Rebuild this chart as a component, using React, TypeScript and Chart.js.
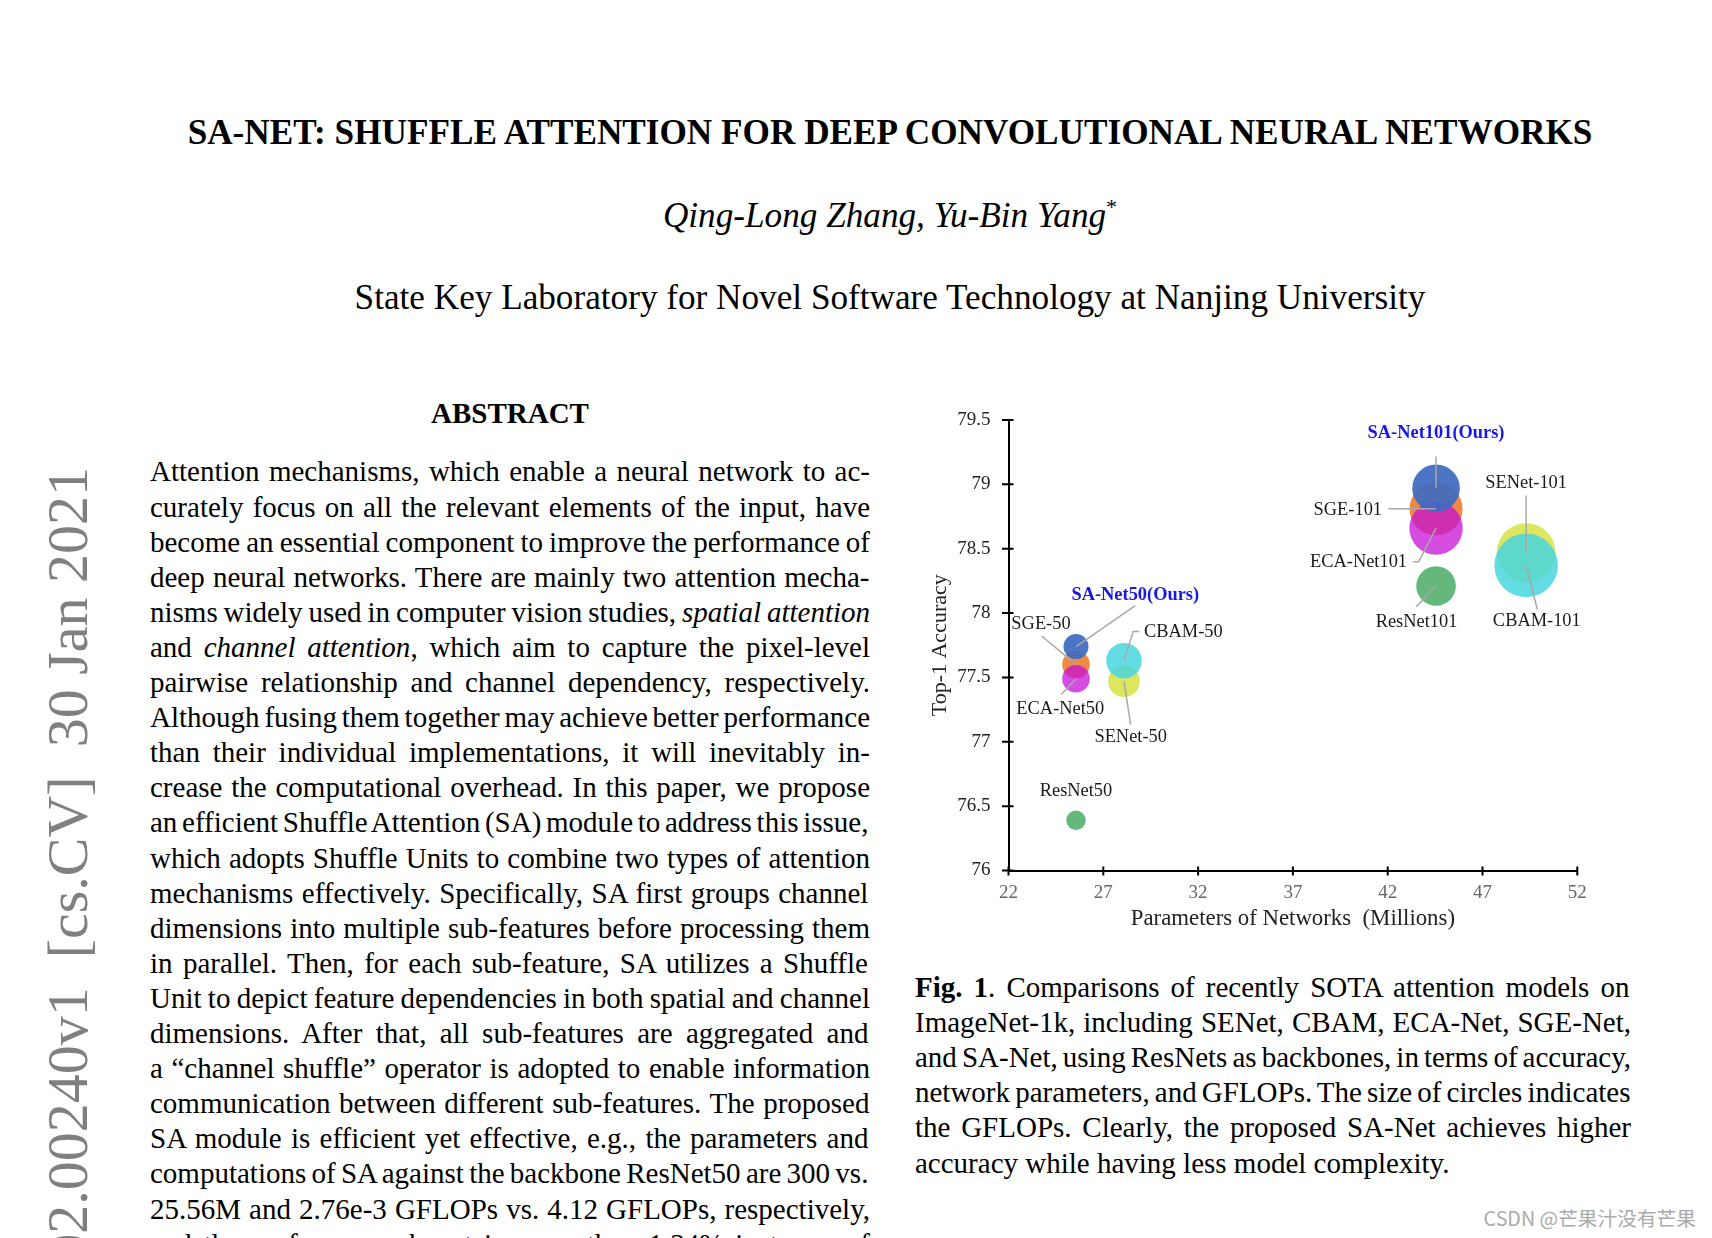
import React, { useEffect, useRef } from "react";
import { Chart, registerables } from "chart.js";

Chart.register(...registerables);

// ---------------- chart data ----------------
const models = [
  "ResNet50", "SENet-50", "CBAM-50", "SGE-50", "ECA-Net50", "SA-Net50(Ours)",
  "ResNet101", "SENet-101", "CBAM-101", "SGE-101", "ECA-Net101", "SA-Net101(Ours)",
];
const paramsM = [25.56, 28.09, 28.09, 25.56, 25.56, 25.56, 44.55, 49.3, 49.3, 44.55, 44.55, 44.55];
const top1Acc = [76.39, 77.47, 77.63, 77.6, 77.49, 77.74, 78.21, 78.47, 78.37, 78.81, 78.66, 78.97];
const bubbleSize = [9.7, 15.8, 17.8, 13.8, 13.8, 12.5, 19.8, 29.3, 31.8, 26.5, 26.7, 23.8];
const xTickValues = [22, 27, 32, 37, 42, 47, 52];
const yTickValues = [76, 76.5, 77, 77.5, 78, 78.5, 79, 79.5];
const xAxisTitle = "Parameters of Networks  (Millions)";
const yAxisTitle = "Top-1 Accuracy";

// styles
const BLUE = "rgba(63,106,193,0.93)";
const ORANGE = "rgba(237,125,49,0.9)";
const MAGENTA = "rgba(198,16,214,0.75)";
const GREEN = "rgba(84,176,110,0.9)";
const CYAN = "rgba(72,214,222,0.85)";
const YELLOW = "rgba(214,226,66,0.85)";
const bubbleColors = [GREEN, YELLOW, CYAN, ORANGE, MAGENTA, BLUE, GREEN, YELLOW, CYAN, ORANGE, MAGENTA, BLUE];

type LabelSpec = { dx: number; dy: number; align: CanvasTextAlign; ours?: boolean; line: number[][] };
// label placement (pixel offsets from bubble centre) and leader lines
const labelLayout: LabelSpec[] = [
  { dx: 0, dy: -29.3, align: "center", line: [] },
  { dx: 6.7, dy: 56, align: "center", line: [[0, 0], [6.7, 43.3]] },
  { dx: 20, dy: -29, align: "left", line: [[0, 0], [9.3, -29.3], [15.3, -29.3]] },
  { dx: -35, dy: -40, align: "center", line: [[0, 0], [-34, -28.3]] },
  { dx: -15.7, dy: 30.7, align: "center", line: [[0, 0], [-14.7, 15.7]] },
  { dx: 59.3, dy: -51, align: "center", ours: true, line: [[0, 0], [59.3, -41]] },
  { dx: -19.5, dy: 35.7, align: "center", line: [[0, 0], [-19.8, 20.7]] },
  { dx: 0, dy: -69.3, align: "center", line: [[0, 0], [0, -57]] },
  { dx: 10.7, dy: 55.7, align: "center", line: [[0, 0], [11.3, 44]] },
  { dx: -54, dy: 1.7, align: "right", line: [[0, 0], [-47.7, 0]] },
  { dx: -29, dy: 33.7, align: "right", line: [[0, 0], [-17.4, 33.7], [-23, 33.7]] },
  { dx: 0, dy: -55.3, align: "center", ours: true, line: [[0, 0], [0, -31.6]] },
];

// ---------------- page text ----------------
const titleText = "SA-NET: SHUFFLE ATTENTION FOR DEEP CONVOLUTIONAL NEURAL NETWORKS";
const authorsText = "Qing-Long Zhang, Yu-Bin Yang";
const affiliationText = "State Key Laboratory for Novel Software Technology at Nanjing University";
const stampText = "arXiv:2102.00240v1  [cs.CV]  30 Jan 2021";
const watermarkText = "CSDN @芒果汁没有芒果";

type Seg = { t: string; i?: boolean; b?: boolean };
const abstractLines: Seg[][] = [
  [{ t: "Attention mechanisms, which enable a neural network to ac-" }],
  [{ t: "curately focus on all the relevant elements of the input, have" }],
  [{ t: "become an essential component to improve the performance of" }],
  [{ t: "deep neural networks. There are mainly two attention mecha-" }],
  [{ t: "nisms widely used in computer vision studies, " }, { t: "spatial attention", i: true }],
  [{ t: "and " }, { t: "channel attention", i: true }, { t: ", which aim to capture the pixel-level" }],
  [{ t: "pairwise relationship and channel dependency, respectively." }],
  [{ t: "Although fusing them together may achieve better performance" }],
  [{ t: "than their individual implementations, it will inevitably in-" }],
  [{ t: "crease the computational overhead. In this paper, we propose" }],
  [{ t: "an efficient Shuffle Attention (SA) module to address this issue," }],
  [{ t: "which adopts Shuffle Units to combine two types of attention" }],
  [{ t: "mechanisms effectively. Specifically, SA first groups channel" }],
  [{ t: "dimensions into multiple sub-features before processing them" }],
  [{ t: "in parallel. Then, for each sub-feature, SA utilizes a Shuffle" }],
  [{ t: "Unit to depict feature dependencies in both spatial and channel" }],
  [{ t: "dimensions. After that, all sub-features are aggregated and" }],
  [{ t: "a \u201cchannel shuffle\u201d operator is adopted to enable information" }],
  [{ t: "communication between different sub-features. The proposed" }],
  [{ t: "SA module is efficient yet effective, e.g., the parameters and" }],
  [{ t: "computations of SA against the backbone ResNet50 are 300 vs." }],
  [{ t: "25.56M and 2.76e-3 GFLOPs vs. 4.12 GFLOPs, respectively," }],
  [{ t: "and the performance boost is more than 1.34% in terms of" }],
];

const captionLines: Seg[][] = [
  [{ t: "Fig. 1", b: true }, { t: ". Comparisons of recently SOTA attention models on" }],
  [{ t: "ImageNet-1k, including SENet, CBAM, ECA-Net, SGE-Net," }],
  [{ t: "and SA-Net, using ResNets as backbones, in terms of accuracy," }],
  [{ t: "network parameters, and GFLOPs. The size of circles indicates" }],
  [{ t: "the GFLOPs. Clearly, the proposed SA-Net achieves higher" }],
  [{ t: "accuracy while having less model complexity." }],
];

const SERIF = '"Liberation Serif", "Times New Roman", serif';
const HEAD = 35.2;

let measureCtx: CanvasRenderingContext2D | null = null;
function measure(font: string, text: string): number {
  if (!measureCtx) measureCtx = document.createElement("canvas").getContext("2d");
  measureCtx!.font = font;
  return measureCtx!.measureText(text).width;
}

function JLine(props: { segs: Seg[]; left: number; top: number; width: number; size: number; justify: boolean }) {
  const { segs, left, top, width, size, justify } = props;
  let w = 0;
  let spaces = 0;
  for (const s of segs) {
    w += measure(`${s.i ? "italic " : ""}${s.b ? "bold " : ""}${size}px "Liberation Serif"`, s.t);
    spaces += (s.t.match(/ /g) || []).length;
  }
  const ws = justify && spaces ? (width - w) / spaces : 0;
  return (
    <div
      style={{
        position: "absolute", left, top, width, whiteSpace: "pre",
        fontSize: size, lineHeight: `${size}px`, wordSpacing: `${ws}px`,
      }}
    >
      {segs.map((s, k) => (
        <span key={k} style={{ fontStyle: s.i ? "italic" : "normal", fontWeight: s.b ? "bold" : "normal" }}>
          {s.t}
        </span>
      ))}
    </div>
  );
}

function BubbleChart() {
  const ref = useRef<HTMLCanvasElement>(null);
  useEffect(() => {
    const canvas = ref.current!;
    const annotate = {
      id: "annotate",
      afterDraw(chart: any) {
        const ctx = chart.ctx as CanvasRenderingContext2D;
        const xs = chart.scales.x;
        const ys = chart.scales.y;
        const ca = chart.chartArea;
        ctx.save();
        // crossing tick marks
        ctx.strokeStyle = "#000";
        ctx.lineWidth = 2;
        ctx.beginPath();
        yTickValues.forEach((v) => {
          const p = ys.getPixelForValue(v);
          ctx.moveTo(ca.left - 6.5, p);
          ctx.lineTo(ca.left + 5, p);
        });
        xTickValues.forEach((v) => {
          const p = xs.getPixelForValue(v);
          ctx.moveTo(p, ca.bottom - 4);
          ctx.lineTo(p, ca.bottom + 5);
        });
        ctx.stroke();
        // leader lines
        ctx.strokeStyle = "#a8a8a8";
        ctx.lineWidth = 1.5;
        models.forEach((_, i) => {
          const L = labelLayout[i];
          if (!L.line.length) return;
          const cx = xs.getPixelForValue(paramsM[i]);
          const cy = ys.getPixelForValue(top1Acc[i]);
          ctx.beginPath();
          L.line.forEach((pt, k) => {
            if (k === 0) ctx.moveTo(cx + pt[0], cy + pt[1]);
            else ctx.lineTo(cx + pt[0], cy + pt[1]);
          });
          ctx.stroke();
        });
        // labels
        ctx.textBaseline = "middle";
        models.forEach((name, i) => {
          const L = labelLayout[i];
          const cx = xs.getPixelForValue(paramsM[i]);
          const cy = ys.getPixelForValue(top1Acc[i]);
          ctx.font = `${L.ours ? "bold " : ""}18.4px ${SERIF}`;
          ctx.fillStyle = L.ours ? "#1717e6" : "#1a1a1a";
          ctx.textAlign = L.align;
          ctx.fillText(name, cx + L.dx, cy + L.dy);
        });
        // axis titles
        ctx.fillStyle = "#222";
        ctx.textAlign = "center";
        ctx.font = `22.8px ${SERIF}`;
        ctx.fillText(xAxisTitle, (ca.left + ca.right) / 2, ca.bottom + 48.5);
        ctx.font = `22px ${SERIF}`;
        ctx.translate(ca.left - 68.5, (ca.top + ca.bottom) / 2);
        ctx.rotate(-Math.PI / 2);
        ctx.fillText(yAxisTitle, 0, 0);
        ctx.restore();
      },
    };
    const chart = new Chart(canvas, {
      type: "bubble",
      data: {
        datasets: [
          {
            data: models.map((_, i) => ({ x: paramsM[i], y: top1Acc[i], r: bubbleSize[i] })),
            backgroundColor: bubbleColors,
            borderWidth: 0,
            hoverBorderWidth: 0,
          },
        ],
      },
      options: {
        responsive: false,
        animation: false,
        devicePixelRatio: 1,
        events: [],
        clip: false,
        layout: { autoPadding: false, padding: { top: 30, right: 22.7, left: 0, bottom: 0 } },
        plugins: { legend: { display: false }, tooltip: { enabled: false } },
        scales: {
          x: {
            type: "linear",
            min: 22,
            max: 52,
            afterFit: (s: any) => {
              s.height = 79.5;
              s.paddingLeft = 0;
              s.paddingRight = 0;
              s.paddingTop = 0;
              s.paddingBottom = 0;
            },
            afterBuildTicks: (s: any) => { s.ticks = xTickValues.map((v) => ({ value: v })); },
            ticks: {
              font: { family: SERIF, size: 19 },
              color: "#666",
              padding: 11,
              maxRotation: 0,
              autoSkip: false,
              callback: (v: any) => String(v),
            },
            grid: { display: false, drawTicks: false },
            border: { display: true, color: "#000", width: 2 },
          },
          y: {
            type: "linear",
            min: 76,
            max: 79.5,
            afterFit: (s: any) => {
              s.width = 88.5;
              s.paddingLeft = 0;
              s.paddingRight = 0;
              s.paddingTop = 0;
              s.paddingBottom = 0;
            },
            afterBuildTicks: (s: any) => { s.ticks = yTickValues.map((v) => ({ value: v })); },
            ticks: {
              font: { family: SERIF, size: 19 },
              color: "#222",
              padding: 18,
              autoSkip: false,
              callback: (v: any) => String(v),
            },
            grid: { display: false, drawTicks: false },
            border: { display: true, color: "#000", width: 2 },
          },
        },
      } as any,
      plugins: [annotate],
    });
    return () => chart.destroy();
  }, []);
  return (
    <canvas
      ref={ref}
      width={680}
      height={560}
      style={{ position: "absolute", left: 920, top: 390, width: 680, height: 560 }}
    />
  );
}

export default function App() {
  const base = (b: number, f: number) => b - 0.8375 * f;
  return (
    <div
      style={{
        position: "fixed", left: 0, top: 0, width: 1712, height: 1238, overflow: "hidden",
        background: "#fff", color: "#000", fontFamily: SERIF,
      }}
    >
      {/* arXiv stamp */}
      <div
        style={{
          position: "absolute", left: 38.7, top: 467 + 1200, width: 1200, textAlign: "right",
          whiteSpace: "pre", fontSize: 58, lineHeight: "58px", color: "#808080",
          transformOrigin: "0 0", transform: "rotate(-90deg)",
        }}
      >
        {stampText}
      </div>

      <div
        style={{
          position: "absolute", left: 0, width: 1780, top: base(144, HEAD), textAlign: "center",
          fontSize: HEAD, lineHeight: `${HEAD}px`, fontWeight: "bold", whiteSpace: "pre",
        }}
      >
        {titleText}
      </div>
      <div
        style={{
          position: "absolute", left: 0, width: 1780, top: base(227.6, HEAD), textAlign: "center",
          fontSize: HEAD, lineHeight: `${HEAD}px`, fontStyle: "italic", whiteSpace: "pre",
        }}
      >
        {authorsText}
        <span style={{ fontSize: 22, position: "relative", top: -13, fontStyle: "normal" }}>*</span>
      </div>
      <div
        style={{
          position: "absolute", left: 0, width: 1780, top: base(309.5, HEAD), textAlign: "center",
          fontSize: HEAD, lineHeight: `${HEAD}px`, whiteSpace: "pre",
        }}
      >
        {affiliationText}
      </div>

      <div
        style={{
          position: "absolute", left: 150, width: 720, top: base(423.4, 29), textAlign: "center",
          fontSize: 29, lineHeight: "29px", fontWeight: "bold",
        }}
      >
        ABSTRACT
      </div>

      {abstractLines.map((segs, k) => (
        <JLine key={k} segs={segs} left={150} top={base(481.7 + 35.1 * k, 29)} width={720} size={29} justify={true} />
      ))}

      <BubbleChart />

      {captionLines.map((segs, k) => (
        <JLine
          key={k}
          segs={segs}
          left={915}
          top={base(997.3 + 35.1 * k, 29)}
          width={716}
          size={29}
          justify={k < captionLines.length - 1}
        />
      ))}

      <div
        style={{
          position: "absolute", right: 16, top: 1208, fontSize: 19.7, lineHeight: "19.7px",
          color: "#aaaaaa", fontFamily: '"Noto Sans CJK SC", "Noto Sans", sans-serif', whiteSpace: "pre",
        }}
      >
        {watermarkText}
      </div>
    </div>
  );
}
